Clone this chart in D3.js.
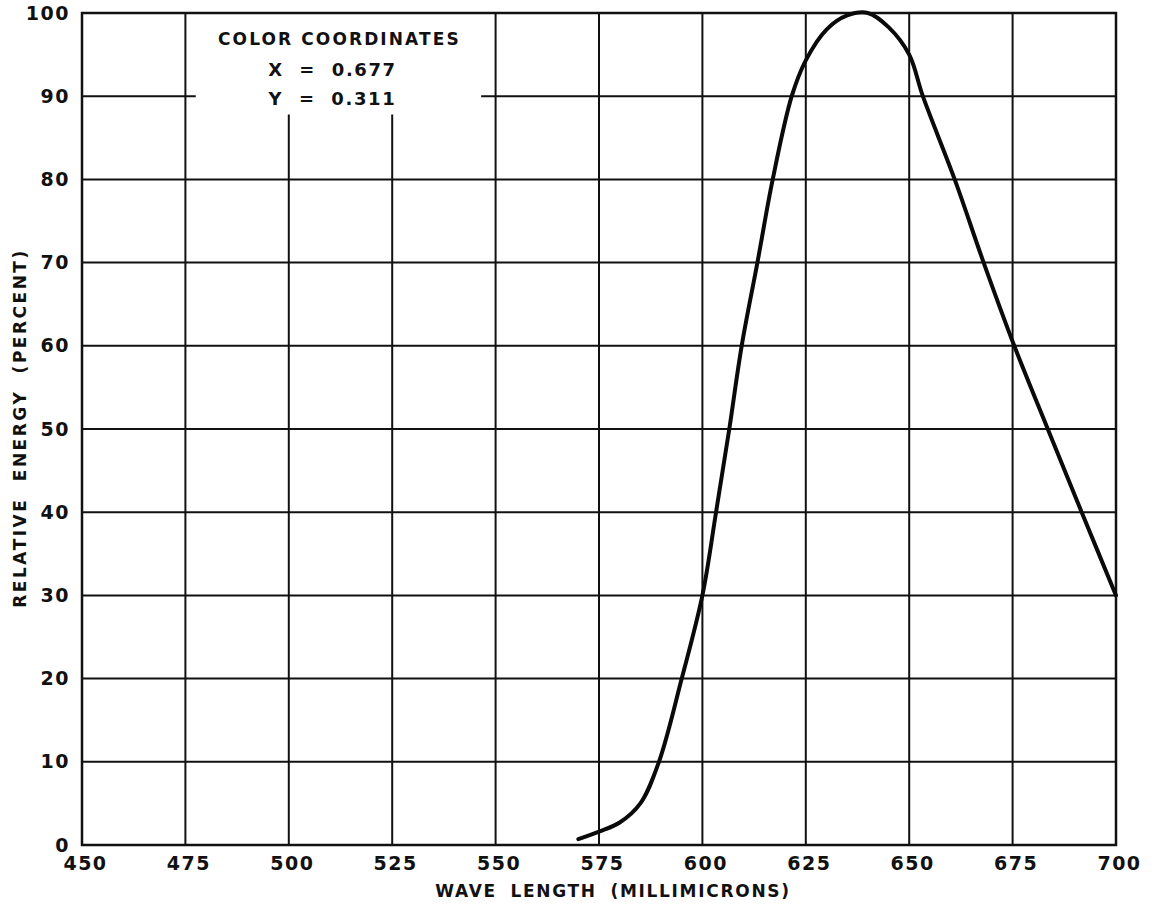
<!DOCTYPE html>
<html>
<head>
<meta charset="utf-8">
<script src="https://cdn.jsdelivr.net/npm/d3@7"></script>
<style>
  html, body { margin: 0; padding: 0; background: #fff; }
  svg { display: block; }
  text { font-family: "DejaVu Sans", sans-serif; font-weight: bold; fill: #111; }
</style>
</head>
<body>
<svg id="chart" width="1154" height="905"></svg>
<script>
// Wavelength grid (millimicrons) and relative energy grid (percent)
const xTicks = [450, 475, 500, 525, 550, 575, 600, 625, 650, 675, 700];
const yTicks = [0, 10, 20, 30, 40, 50, 60, 70, 80, 90, 100];

// Spectral energy distribution of the red phosphor
const wavelength = [570, 575, 580, 585, 589.5, 595, 600, 603.3, 606.5, 609.5, 613.3, 617, 621.6, 625,
                    630, 635, 640, 645, 650, 653.3, 661, 668, 675.4, 683.5, 691.7, 700];
const energy     = [0.7, 1.6, 2.7, 5.0, 10, 20, 30, 40, 50, 60, 70, 80, 90, 94.3,
                    98, 99.7, 100, 98.3, 95, 90, 80, 70, 60, 50, 40, 30];

// Chromaticity note
const noteTitle = "COLOR COORDINATES";
const noteLines = ["X = 0.677", "Y = 0.311"];

const xTitle = "WAVE LENGTH (MILLIMICRONS)";
const yTitle = "RELATIVE ENERGY (PERCENT)";

const svg = d3.select("#chart");
const plotLeft = 82, plotRight = 1116, plotTop = 13, plotBottom = 845;

const x = d3.scaleLinear().domain([450, 700]).range([plotLeft, plotRight]);
const y = d3.scaleLinear().domain([0, 100]).range([plotBottom, plotTop]);

// Clear area kept free of grid lines behind the note (data units)
const clear = { x0: 477.5, x1: 546.5, yLow: 87.8 };

const grid = svg.append("g").attr("stroke", "#111").attr("stroke-width", 2).attr("fill", "none");

// Vertical grid lines (interior)
xTicks.slice(1, -1).forEach(v => {
  const yTop = (v > clear.x0 && v < clear.x1) ? clear.yLow : 100;
  grid.append("line")
    .attr("x1", x(v)).attr("x2", x(v))
    .attr("y1", y(0)).attr("y2", y(yTop));
});

// Horizontal grid lines (interior)
yTicks.slice(1, -1).forEach(v => {
  if (v > clear.yLow) {
    grid.append("line").attr("x1", x(450)).attr("x2", x(clear.x0)).attr("y1", y(v)).attr("y2", y(v));
    grid.append("line").attr("x1", x(clear.x1)).attr("x2", x(700)).attr("y1", y(v)).attr("y2", y(v));
  } else {
    grid.append("line").attr("x1", x(450)).attr("x2", x(700)).attr("y1", y(v)).attr("y2", y(v));
  }
});

// Frame
svg.append("rect")
  .attr("x", x(450)).attr("y", y(100))
  .attr("width", x(700) - x(450)).attr("height", y(0) - y(100))
  .attr("fill", "none").attr("stroke", "#111").attr("stroke-width", 2.5);

// Axes (labels only)
const xAxis = svg.append("g")
  .attr("transform", `translate(0,${plotBottom})`)
  .call(d3.axisBottom(x).tickValues(xTicks).tickSize(0).tickPadding(12).tickFormat(d3.format("d")));
const yAxis = svg.append("g")
  .attr("transform", `translate(${plotLeft},0)`)
  .call(d3.axisLeft(y).tickValues(yTicks).tickSize(0).tickPadding(12).tickFormat(d3.format("d")));
[xAxis, yAxis].forEach(g => {
  g.select(".domain").remove();
  g.selectAll("text")
    .attr("fill", "#111")
    .style("font-family", "'DejaVu Sans', sans-serif")
    .style("font-weight", "bold")
    .style("font-size", "19px")
    .style("letter-spacing", "1.5px");
});
xAxis.selectAll("text").attr("dx", "3px");

// Energy curve
const line = d3.line()
  .x((d, i) => x(wavelength[i]))
  .y(d => y(d))
  .curve(d3.curveCatmullRom.alpha(0.5));
svg.append("path")
  .datum(energy)
  .attr("d", line)
  .attr("fill", "none")
  .attr("stroke", "#0a0a0a")
  .attr("stroke-width", 4)
  .attr("stroke-linejoin", "round")
  .attr("stroke-linecap", "round");

// Note
const noteX = x((clear.x0 + clear.x1) / 2);
svg.append("text")
  .attr("x", noteX + 1).attr("y", 45)
  .attr("text-anchor", "middle")
  .style("font-size", "17px").style("letter-spacing", "2.1px")
  .text(noteTitle);
noteLines.forEach((t, i) => {
  svg.append("text")
    .attr("x", noteX - 6).attr("y", 76 + i * 29)
    .attr("text-anchor", "middle")
    .style("font-size", "18px").style("letter-spacing", "1.6px")
    .style("white-space", "pre")
    .text(t.replace(/ = /, "  =  "));
});

// Axis titles
svg.append("text")
  .attr("x", 613).attr("y", 897)
  .attr("text-anchor", "middle")
  .style("font-size", "17px").style("letter-spacing", "1.7px").style("word-spacing", "6px")
  .text(xTitle);
svg.append("text")
  .attr("transform", `translate(26,428) rotate(-90)`)
  .attr("text-anchor", "middle")
  .style("font-size", "17px").style("letter-spacing", "2.5px").style("word-spacing", "8px")
  .text(yTitle);
</script>
</body>
</html>
